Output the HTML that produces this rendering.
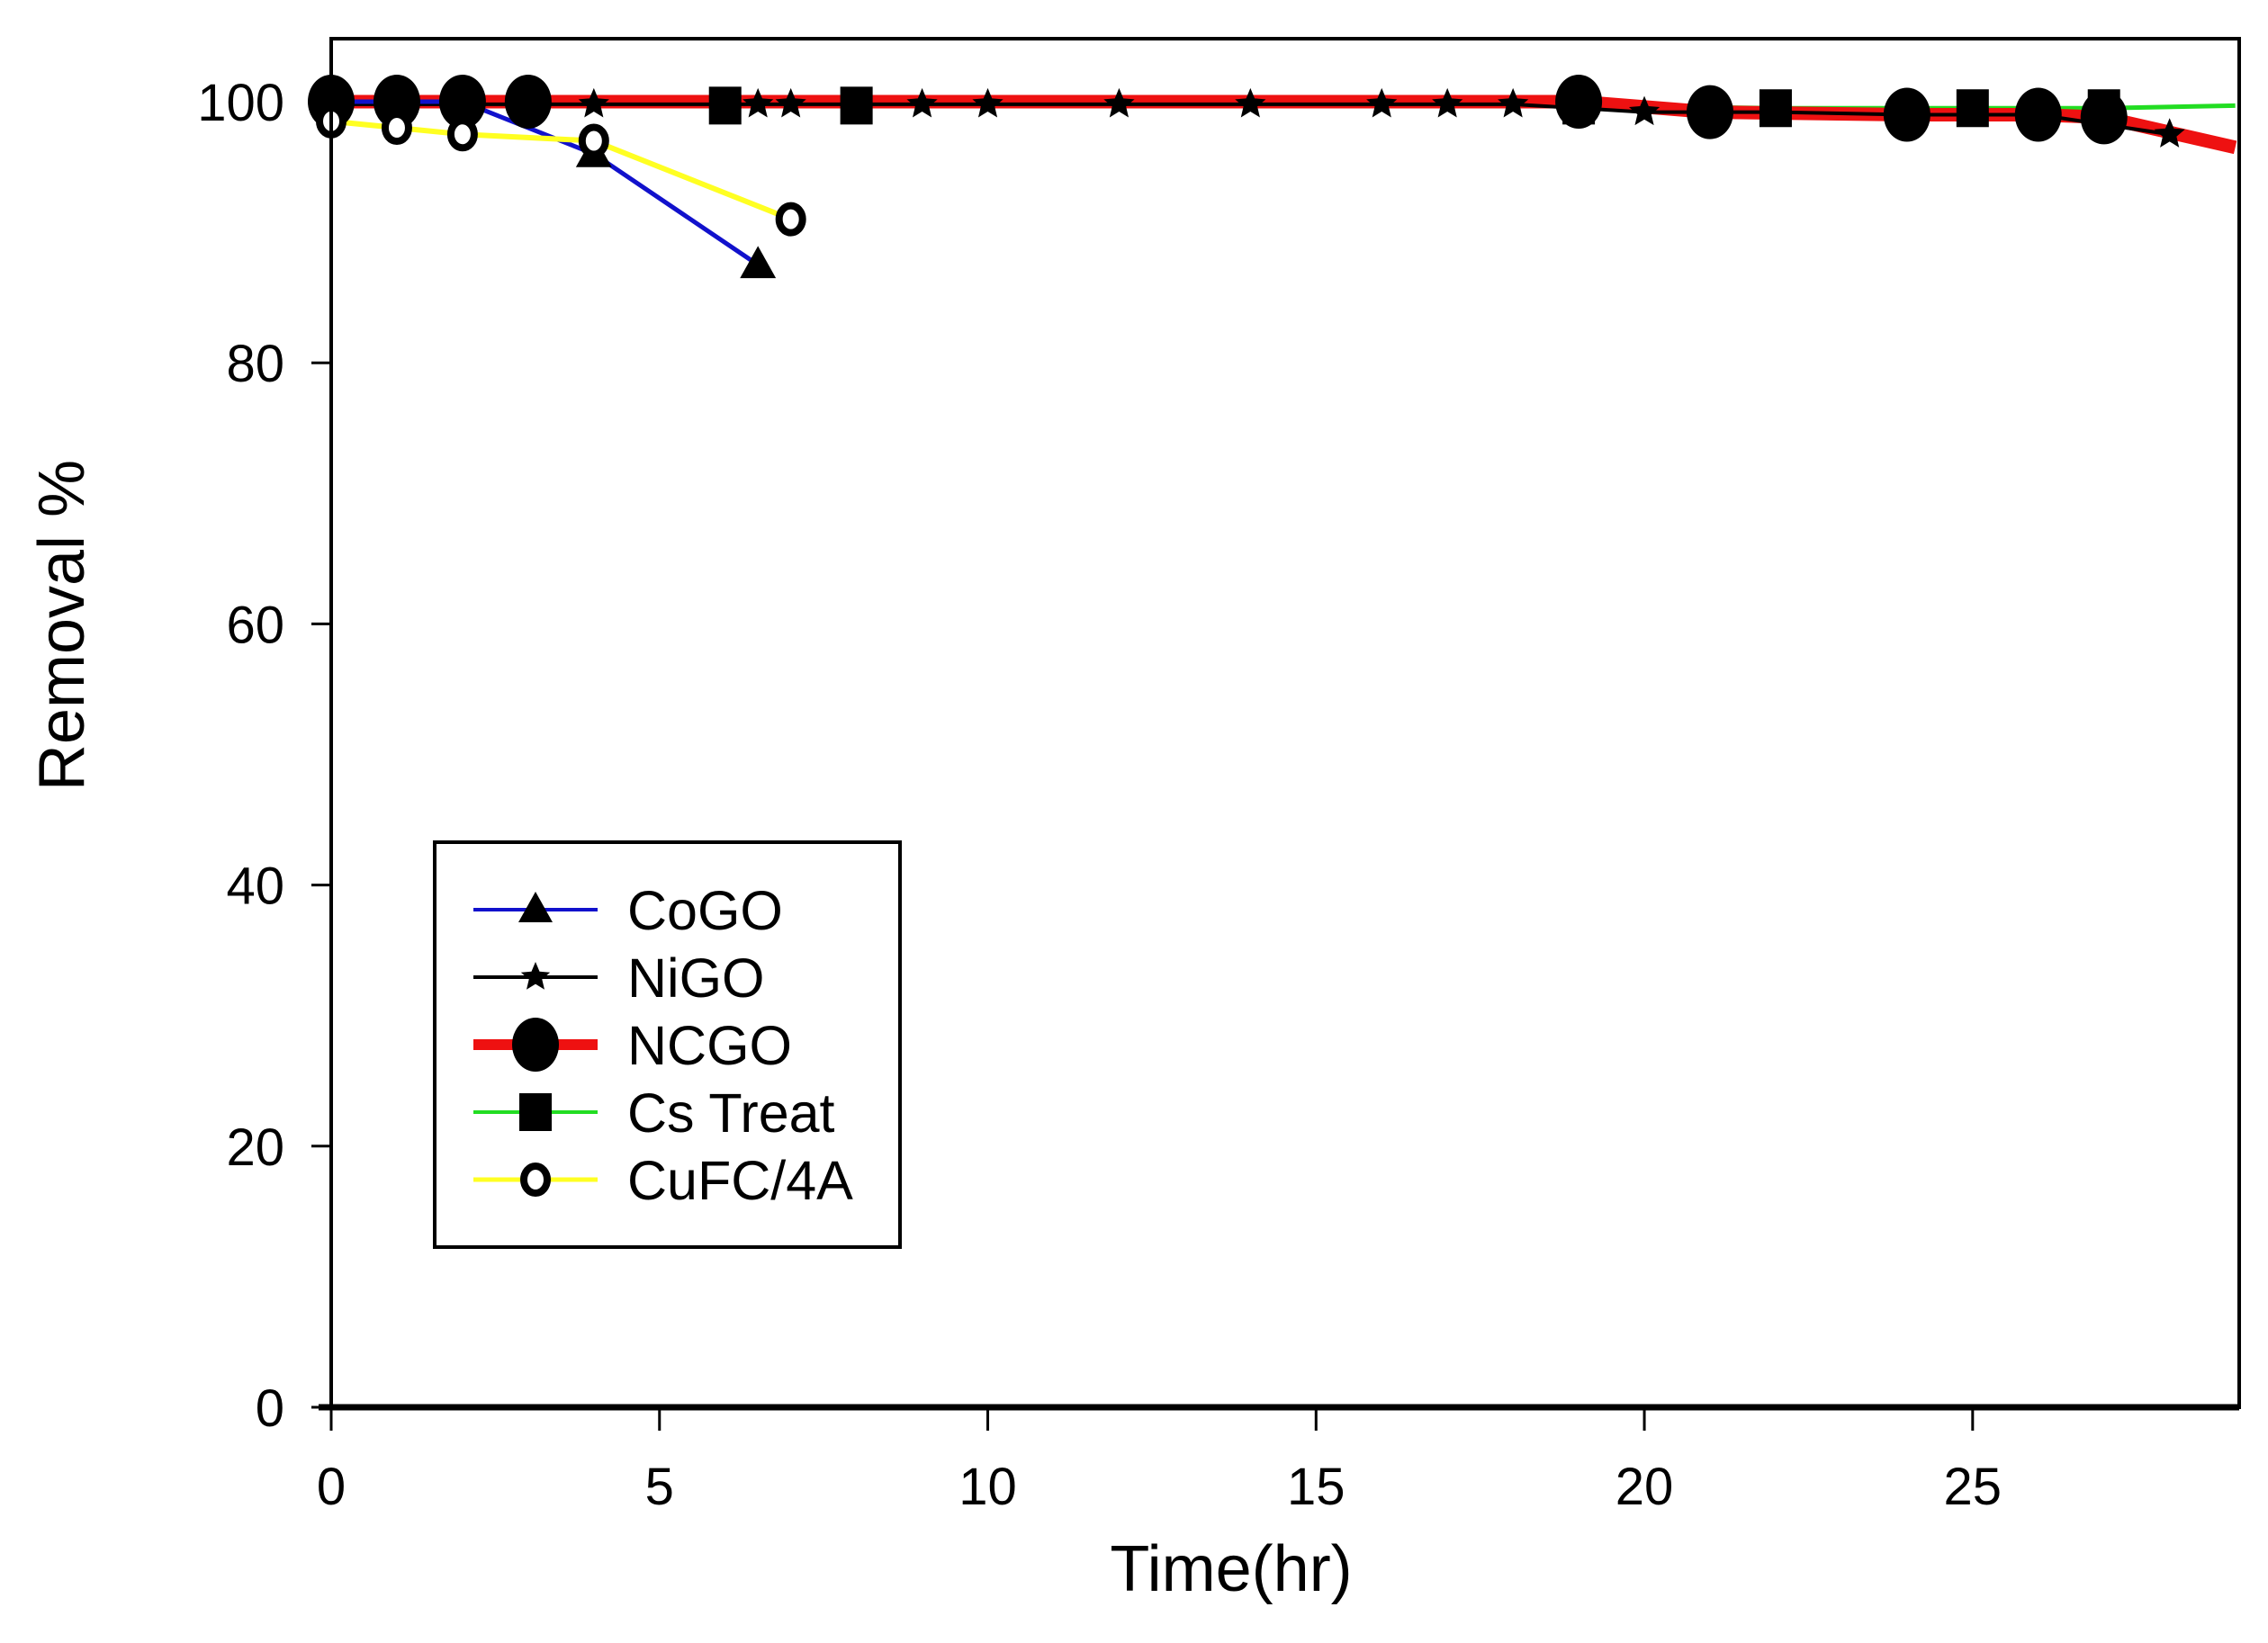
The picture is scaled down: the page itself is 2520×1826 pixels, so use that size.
<!DOCTYPE html>
<html><head><meta charset="utf-8"><style>
html,body{margin:0;padding:0;background:#fff;}
svg{display:block;font-family:"Liberation Sans",Arial,sans-serif;}
</style></head><body>
<svg id="chart" width="2520" height="1826" viewBox="0 0 2520 1826" xmlns="http://www.w3.org/2000/svg">
<rect x="0" y="0" width="2520" height="1826" fill="#fff"/>
<g id="series"></g>
<g id="axes"></g>
</svg>
<script>
const xTicks=[0,5,10,15,20,25];
const yTicks=[0,20,40,60,80,100];
const cogoX=[0,1,2,4,6.5];
const cogoY=[100,100,100,96,87.5];
const cufcX=[0,1,2,4,7];
const cufcY=[98.5,98,97.5,97,91];
const nigoX=[0,1,2,3,4,6.5,7,9,10,12,14,16,17,18,20,22,24,26,28];
const nigoY=[99.8,99.8,99.8,99.8,99.8,99.8,99.8,99.8,99.8,99.8,99.8,99.8,99.8,99.8,99.2,99.2,99,99,97.5];
const ncgoX=[0,1,2,3,19,21,24,26,27,29];
const ncgoY=[100,100,100,100,100,99.2,99,99,98.8,96.5];
const csX=[0,1,2,3,6,8,19,22,25,27,29];
const csY=[99.7,99.7,99.7,99.7,99.7,99.7,99.7,99.5,99.5,99.5,99.7];

const L=368,R=2488,T=43,B=1564,X0=0,X1=29.06,Y0=0,Y100=113;
const sx=v=>L+(v-X0)*(R-L)/(X1-X0);
const sy=v=>B-(v/100)*(B-Y100);
const NS="http://www.w3.org/2000/svg";
const ser=document.getElementById('series'), ax=document.getElementById('axes');
function mk(tag,attrs,parent){const e=document.createElementNS(NS,tag);for(const k in attrs)e.setAttribute(k,attrs[k]);parent.appendChild(e);return e;}
function line(xs,ys,color,w,name){
  const pts=xs.map((x,i)=>sx(x)+','+sy(ys[i])).join(' ');
  const p=mk('polyline',{points:pts,fill:'none',stroke:color,'stroke-width':w,'stroke-linejoin':'round'},ser);
  
  
}
function tri(cx,cy,s,parent){return mk('polygon',{points:`${cx},${cy-s} ${cx-s*0.95},${cy+s*0.7} ${cx+s*0.95},${cy+s*0.7}`,fill:'#000'},parent);}
function star(cx,cy,r,parent){let p=[];for(let i=0;i<10;i++){const a=-Math.PI/2+i*Math.PI/5;const rr=i%2?r*0.45:r;p.push((cx+rr*Math.cos(a))+','+(cy+rr*Math.sin(a)));}return mk('polygon',{points:p.join(' '),fill:'#000'},parent);}
function bigc(cx,cy,parent){return mk('ellipse',{cx:cx,cy:cy,rx:26,ry:30,fill:'#000'},parent);}
function sq(cx,cy,parent){return mk('rect',{x:cx-18,y:cy-21,width:36,height:42,fill:'#000'},parent);}
function oc(cx,cy,parent){return mk('ellipse',{cx:cx,cy:cy,rx:13,ry:15,fill:'#fff',stroke:'#000','stroke-width':8},parent);}

line(csX,csY,'#22dd22',5,'cs-treat-line');
line(ncgoX,ncgoY,'#ee1111',15,'ncgo-line');
line(nigoX,nigoY,'#000',4,'nigo-line');
line(cogoX,cogoY,'#1111cc',5,'cogo-line');
line(cufcX,cufcY,'#ffff22',6,'cufc-line');

csX.forEach((x,i)=>{if(i<4||i==csX.length-1)return;const e=sq(sx(x),sy(csY[i]),ser);});
nigoX.forEach((x,i)=>{const e=star(sx(x),sy(nigoY[i]),18,ser);});
ncgoX.forEach((x,i)=>{if(i==ncgoX.length-1)return;const e=bigc(sx(x),sy(ncgoY[i]),ser);});
cogoX.forEach((x,i)=>{if(i<3)return;const e=tri(sx(x),sy(cogoY[i]),21,ser);});
cufcX.forEach((x,i)=>{const e=oc(sx(x),sy(cufcY[i]),ser);});

const fr=mk('rect',{x:L,y:T,width:R-L,height:B-T,fill:'none',stroke:'#000','stroke-width':4},ax);


mk('line',{x1:L-14,x2:R,y1:B,y2:B,stroke:'#000','stroke-width':7},ax);
xTicks.forEach(v=>{
  const t=mk('line',{x1:sx(v),x2:sx(v),y1:B,y2:B+26,stroke:'#000','stroke-width':3},ax);
  
  
  const tx=mk('text',{x:sx(v),y:B+108,'font-size':58,'text-anchor':'middle',fill:'#000'},ax);
  tx.textContent=v;
  
  
});
yTicks.forEach(v=>{
  const t=mk('line',{x1:L-22,x2:L,y1:sy(v),y2:sy(v),stroke:'#000','stroke-width':3},ax);
  
  
  const tx=mk('text',{x:L-52,y:sy(v)+21,'font-size':58,'text-anchor':'end',fill:'#000'},ax);
  tx.textContent=v;
  
  
});
const xt=mk('text',{x:1368,y:1768,'font-size':72,'text-anchor':'middle'},ax);
xt.textContent='Time(hr)';


const yt=mk('text',{x:0,y:0,'font-size':72,'text-anchor':'middle',transform:'translate(93,695) rotate(-90)'},ax);
yt.textContent='Removal %';



const lg=mk('g',{},ax);


mk('rect',{x:483,y:936,width:517,height:450,fill:'#fff',stroke:'#000','stroke-width':4},lg);
const entries=[['CoGO','#1111cc',4,'tri'],['NiGO','#000',4,'star'],['NCGO','#ee1111',12,'big'],['Cs Treat','#22dd22',4,'sq'],['CuFC/4A','#ffff22',5,'oc']];
entries.forEach((en,i)=>{
  const y=1011+i*75;
  const g=mk('g',{},lg);
  
  
  mk('line',{x1:526,x2:664,y1:y,y2:y,stroke:en[1],'stroke-width':en[2]},g);
  const cx=595;
  if(en[3]=='tri')tri(cx,y,20,g);else if(en[3]=='star')star(cx,y,17,g);else if(en[3]=='big')bigc(cx,y,g);else if(en[3]=='sq')sq(cx,y,g);else oc(cx,y,g);
  const t=mk('text',{x:697,y:y+22,'font-size':61},g);
  t.textContent=en[0];
});
</script>
</body></html>
